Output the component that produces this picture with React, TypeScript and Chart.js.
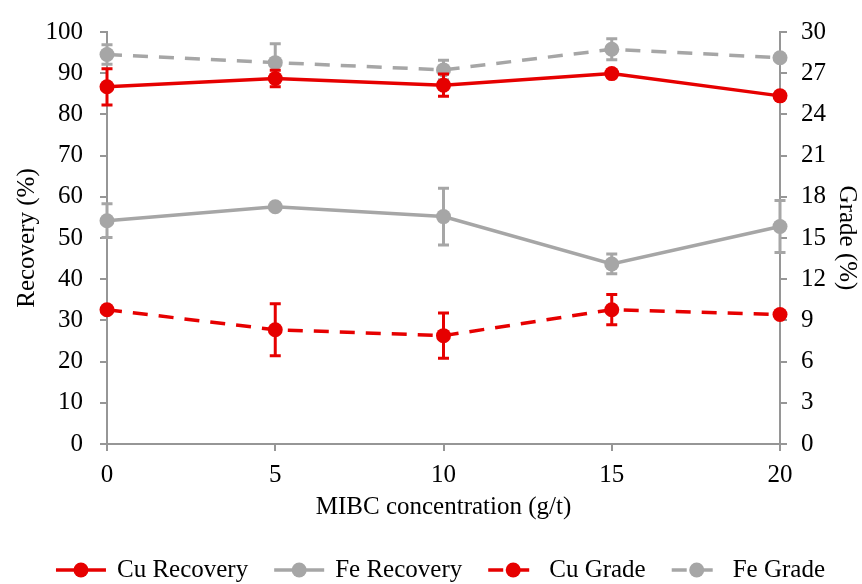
import React, { useEffect, useRef } from 'react';
import { Chart, registerables } from 'chart.js';

Chart.register(...registerables);

// ---- data ----
const concentrations = [0, 5, 10, 15, 20];
const seriesLabels = ['Cu Recovery', 'Fe Recovery', 'Cu Grade', 'Fe Grade'];
const cuRecovery = [86.7, 88.7, 87.1, 89.9, 84.5];
const cuRecoveryErr = [4.4, 2.0, 2.7, 0, 0];
const feRecovery = [54.2, 57.6, 55.2, 43.7, 52.8];
const feRecoveryErr = [4.1, 0, 6.9, 2.4, 6.3];
const cuGrade = [9.78, 8.32, 7.89, 9.78, 9.43];
const cuGradeErr = [0, 1.9, 1.64, 1.1, 0];
const feGrade = [28.36, 27.77, 27.24, 28.74, 28.13];
const feGradeErr = [0.71, 1.38, 0.71, 0.76, 0];
const xRange = [0, 20, 5];
const recoveryRange = [0, 100, 10];
const gradeRange = [0, 30, 3];

const RED = 'rgb(230,0,0)';
const GREY = 'rgb(166,166,166)';
const AXIS = 'rgb(150,150,150)';
const FAMILY = '"Liberation Serif", "Times New Roman", serif';
const FONT = { family: FAMILY, size: 25, lineHeight: 1.2 };

const toPoints = (ys: number[]) => concentrations.map((x, i) => ({ x, y: ys[i] }));

const errorBarPlugin = {
  id: 'errorBars',
  afterDatasetDraw(chart: any, args: any) {
    const ds: any = chart.data.datasets[args.index];
    const errs: number[] | undefined = ds.errors;
    if (!errs) return;
    const meta = args.meta;
    const yScale = chart.scales[meta.yAxisID];
    const ctx = chart.ctx;
    ctx.save();
    ctx.strokeStyle = ds.borderColor;
    ctx.lineWidth = 3;
    ctx.setLineDash([]);
    meta.data.forEach((pt: any, i: number) => {
      const e = errs[i];
      if (!e) return;
      const v = ds.data[i].y;
      const x = pt.x;
      const yTop = yScale.getPixelForValue(v + e);
      const yBot = yScale.getPixelForValue(v - e);
      ctx.beginPath();
      ctx.moveTo(x, yTop);
      ctx.lineTo(x, yBot);
      ctx.moveTo(x - 5.5, yTop);
      ctx.lineTo(x + 5.5, yTop);
      ctx.moveTo(x - 5.5, yBot);
      ctx.lineTo(x + 5.5, yBot);
      ctx.stroke();
    });
    ctx.restore();
  },
};

const legendPlugin = {
  id: 'bottomLegend',
  afterDraw(chart: any) {
    const ctx = chart.ctx;
    ctx.save();
    ctx.font = `25px ${FAMILY}`;
    const symW = 50;
    const gap = 11;
    const itemGap = 26;
    const items = chart.data.datasets.map((ds: any) => ({
      ds,
      w: symW + gap + ctx.measureText(ds.label).width,
    }));
    const total = items.reduce((s: number, it: any) => s + it.w, 0) + itemGap * (items.length - 1);
    let x = (chart.chartArea.left + chart.chartArea.right) / 2 - 3 - total / 2;
    const y = chart.height - 14;
    items.forEach((it: any) => {
      const ds = it.ds;
      ctx.strokeStyle = ds.borderColor;
      ctx.lineWidth = ds.borderWidth;
      ctx.setLineDash(ds.borderDash || []);
      ctx.beginPath();
      ctx.moveTo(x, y);
      ctx.lineTo(x + symW, y);
      ctx.stroke();
      ctx.setLineDash([]);
      ctx.fillStyle = ds.borderColor;
      ctx.beginPath();
      ctx.arc(x + symW / 2, y, ds.pointRadius, 0, Math.PI * 2);
      ctx.fill();
      ctx.fillStyle = '#000';
      ctx.textBaseline = 'middle';
      ctx.textAlign = 'left';
      ctx.fillText(ds.label, x + symW + gap, y);
      x += it.w + itemGap;
    });
    ctx.restore();
  },
};

function makeDataset(label: string, ys: number[], errs: number[], color: string, axis: string, dashed: boolean) {
  return {
    label,
    data: toPoints(ys),
    errors: errs,
    yAxisID: axis,
    borderColor: color,
    backgroundColor: color,
    borderWidth: 3.5,
    borderDash: dashed ? [15, 11] : [],
    pointRadius: 7.5,
    pointHoverRadius: 7.5,
    pointBackgroundColor: color,
    pointBorderColor: color,
    pointBorderWidth: 0,
    tension: 0,
    fill: false,
    clip: false,
  } as any;
}

export default function App() {
  const ref = useRef<HTMLCanvasElement | null>(null);
  useEffect(() => {
    if (!ref.current) return;
    const chart = new Chart(ref.current, {
      type: 'line',
      data: {
        datasets: [
          makeDataset(seriesLabels[0], cuRecovery, cuRecoveryErr, RED, 'yL', false),
          makeDataset(seriesLabels[1], feRecovery, feRecoveryErr, GREY, 'yL', false),
          makeDataset(seriesLabels[2], cuGrade, cuGradeErr, RED, 'yR', true),
          makeDataset(seriesLabels[3], feGrade, feGradeErr, GREY, 'yR', true),
        ],
      },
      options: {
        animation: false,
        responsive: false,
        layout: { padding: { top: 23, left: 0, right: 0, bottom: 0 } },
        plugins: { legend: { display: false }, tooltip: { enabled: false } },
        scales: {
          x: {
            type: 'linear',
            min: xRange[0],
            max: xRange[1],
            ticks: { stepSize: xRange[2], padding: 9, font: FONT, color: '#000' },
            grid: { display: true, drawOnChartArea: false, drawTicks: true, tickLength: 7, color: AXIS, lineWidth: 2 },
            border: { color: AXIS, width: 2 },
            title: { display: true, text: 'MIBC concentration (g/t)', font: FONT, color: '#000', padding: { top: 0, bottom: 62 } },
            afterFit: (s: any) => { s.height = 140; },
          },
          yL: {
            type: 'linear',
            position: 'left',
            min: recoveryRange[0],
            max: recoveryRange[1],
            ticks: { stepSize: recoveryRange[2], padding: 17, font: FONT, color: '#000' },
            grid: { display: true, drawOnChartArea: false, drawTicks: true, tickLength: 7, color: AXIS, lineWidth: 2 },
            border: { color: AXIS, width: 2 },
            title: { display: true, text: 'Recovery (%)', font: FONT, color: '#000', padding: { top: 12, bottom: 0 } },
            afterFit: (s: any) => { s.width = 107; },
          },
          yR: {
            type: 'linear',
            position: 'right',
            min: gradeRange[0],
            max: gradeRange[1],
            ticks: { stepSize: gradeRange[2], padding: 14, font: FONT, color: '#000' },
            grid: { display: true, drawOnChartArea: false, drawTicks: true, tickLength: 7, color: AXIS, lineWidth: 2 },
            border: { color: AXIS, width: 2 },
            title: { display: true, text: 'Grade (%)', font: FONT, color: '#000', padding: { top: 0, bottom: 0 } },
            afterFit: (s: any) => { s.width = 82; },
          },
        },
      } as any,
      plugins: [errorBarPlugin, legendPlugin],
    });
    return () => chart.destroy();
  }, []);
  return (
    <div style={{ position: 'absolute', left: 0, top: 0, width: 862, height: 584, background: '#fff' }}>
      <canvas ref={ref} width={862} height={584} style={{ display: 'block', width: 862, height: 584 }} />
    </div>
  );
}
